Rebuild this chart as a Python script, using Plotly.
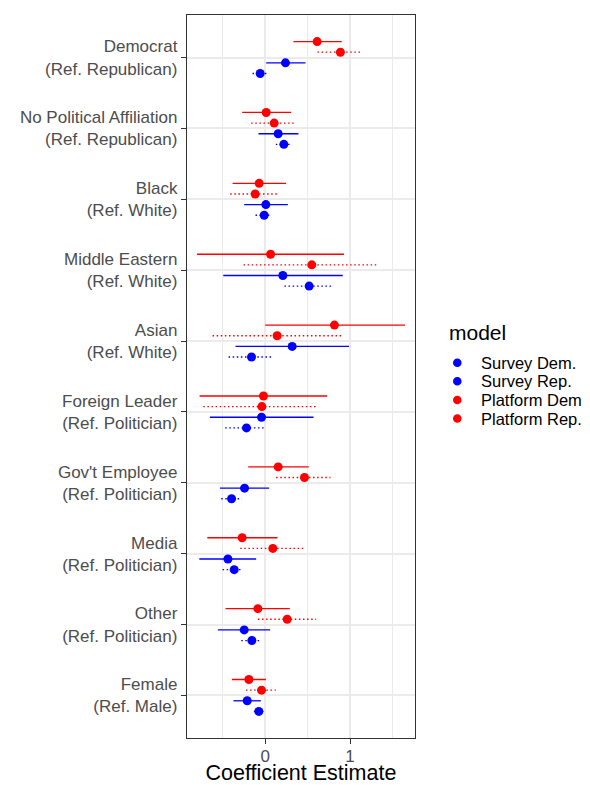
import plotly.graph_objects as go

# ---------------- data ----------------
categories = [
    "Democrat<br>(Ref. Republican)",
    "No Political Affiliation<br>(Ref. Republican)",
    "Black<br>(Ref. White)",
    "Middle Eastern<br>(Ref. White)",
    "Asian<br>(Ref. White)",
    "Foreign Leader<br>(Ref. Politician)",
    "Gov't Employee<br>(Ref. Politician)",
    "Media<br>(Ref. Politician)",
    "Other<br>(Ref. Politician)",
    "Female<br>(Ref. Male)",
]

models = ["Survey Dem.", "Survey Rep.", "Platform Dem.", "Platform Rep."]

survey_dem_est = [0.239, 0.153, 0.008, 0.208, 0.318, -0.043, -0.243, -0.439, -0.247, -0.212]
survey_dem_lo = [0.012, -0.078, -0.247, -0.494, -0.349, -0.651, -0.533, -0.776, -0.557, -0.373]
survey_dem_hi = [0.475, 0.392, 0.267, 0.914, 0.988, 0.569, 0.047, -0.106, 0.059, -0.051]

survey_rep_est = [-0.059, 0.220, -0.012, 0.518, -0.161, -0.220, -0.396, -0.365, -0.157, -0.075]
survey_rep_lo = [-0.149, 0.125, -0.114, 0.227, -0.431, -0.471, -0.518, -0.502, -0.282, -0.133]
survey_rep_hi = [0.027, 0.302, 0.067, 0.804, 0.086, -0.012, -0.275, -0.263, -0.043, -0.020]

platform_dem_est = [0.612, 0.012, -0.071, 0.063, 0.816, -0.020, 0.153, -0.271, -0.086, -0.192]
platform_dem_lo = [0.333, -0.271, -0.384, -0.804, 0.000, -0.773, -0.200, -0.682, -0.467, -0.392]
platform_dem_hi = [0.902, 0.306, 0.247, 0.929, 1.647, 0.729, 0.514, 0.145, 0.290, 0.008]

platform_rep_est = [0.886, 0.106, -0.118, 0.549, 0.141, -0.039, 0.463, 0.090, 0.259, -0.043]
platform_rep_lo = [0.616, -0.165, -0.412, -0.255, -0.620, -0.729, 0.129, -0.294, -0.086, -0.227]
platform_rep_hi = [1.137, 0.353, 0.165, 1.322, 0.910, 0.624, 0.769, 0.451, 0.600, 0.125]

x_ticks = [0, 1]

# ---------------- styling ----------------
series = {
    "Survey Dem.": dict(est=survey_dem_est, lo=survey_dem_lo, hi=survey_dem_hi,
                        color="#0000FF", dash="solid", dodge=-0.075),
    "Survey Rep.": dict(est=survey_rep_est, lo=survey_rep_lo, hi=survey_rep_hi,
                        color="#0000FF", dash="1.5px,2.6px", dodge=-0.225),
    "Platform Dem.": dict(est=platform_dem_est, lo=platform_dem_lo, hi=platform_dem_hi,
                          color="#FF0000", dash="solid", dodge=0.225),
    "Platform Rep.": dict(est=platform_rep_est, lo=platform_rep_lo, hi=platform_rep_hi,
                          color="#FF0000", dash="1.5px,2.6px", dodge=0.075),
}

n = len(categories)
base_y = [n - i for i in range(n)]  # top category highest

FONT = "Liberation Sans, Arial, Helvetica, sans-serif"
fig = go.Figure()

for name in models:
    s = series[name]
    ys = [b + s["dodge"] for b in base_y]
    lx, ly = [], []
    for lo, hi, y in zip(s["lo"], s["hi"], ys):
        lx += [lo, hi, None]
        ly += [y, y, None]
    fig.add_trace(go.Scatter(
        x=lx, y=ly, mode="lines",
        line=dict(color=s["color"], width=1.3, dash=s["dash"]),
        showlegend=False, hoverinfo="skip"))
    fig.add_trace(go.Scatter(
        x=s["est"], y=ys, mode="markers", name=name,
        marker=dict(color=s["color"], size=9, line=dict(width=0)),
        showlegend=False))

# zero reference line
fig.add_shape(type="line", xref="x", yref="paper", x0=0, x1=0, y0=0, y1=1,
              line=dict(color="#A6A6A6", width=1.4, dash="4px,3px"), layer="between")

# page body has an 8px margin; figure is drawn from (8, 8)
OFF = 8
ML, MT = 179, 7
PW, PH = 228, 723
W, H = 582, 777

def px_x(v):
    return (v - OFF - ML) / PW
def px_y(v):
    return (OFF + MT + PH - v) / PH

# manual legend (ggplot style)
fig.add_annotation(text="model", xref="paper", yref="paper",
                   x=px_x(447), y=px_y(332), xanchor="left", yanchor="middle",
                   showarrow=False, font=dict(family=FONT, size=21, color="#000000"))
legend_rows = [362.7, 381.3, 400.0, 418.5]
for name, ry in zip(models, legend_rows):
    s = series[name]
    fig.add_shape(type="circle", xref="paper", yref="paper",
                  xsizemode="pixel", ysizemode="pixel",
                  xanchor=px_x(457.3), yanchor=px_y(ry),
                  x0=-4.3, x1=4.3, y0=-4.3, y1=4.3,
                  fillcolor=s["color"], line=dict(width=0))
    fig.add_annotation(text=name, xref="paper", yref="paper",
                       x=px_x(478.5), y=px_y(ry), xanchor="left", yanchor="middle",
                       showarrow=False, font=dict(family=FONT, size=16.5, color="#000000"))

fig.update_layout(
    width=W, height=H,
    margin=dict(l=ML, r=W - ML - PW, t=MT, b=H - MT - PH, autoexpand=False),
    paper_bgcolor="white", plot_bgcolor="white",
    font=dict(family=FONT, color="#4D4D4D"),
    showlegend=False,
    xaxis=dict(
        range=[-0.921, 1.765], tickvals=x_ticks, ticktext=[str(t) for t in x_ticks],
        showgrid=True, gridcolor="#EBEBEB", gridwidth=1.7,
        minor=dict(tickvals=[-0.5, 0.5, 1.5], showgrid=True, gridcolor="#EBEBEB",
                   gridwidth=0.9, ticks=""),
        zeroline=False, showline=True, mirror=True, linecolor="#333333", linewidth=1.4,
        ticks="outside", ticklen=5, tickwidth=1.3, tickcolor="#333333",
        ticklabelstandoff=-3,
        tickfont=dict(family=FONT, size=17, color="#4D4D4D"),
        title=dict(text="Coefficient Estimate", standoff=4,
                   font=dict(family=FONT, size=21.5, color="#000000")),
        automargin=False, fixedrange=True,
    ),
    yaxis=dict(
        range=[0.4, 10.6], tickvals=base_y, ticktext=categories,
        showgrid=True, gridcolor="#EBEBEB", gridwidth=1.7,
        zeroline=False, showline=True, mirror=True, linecolor="#333333", linewidth=1.4,
        ticks="outside", ticklen=5, tickwidth=1.3, tickcolor="#333333",
        tickfont=dict(family=FONT, size=17, color="#4D4D4D"),
        automargin=False, fixedrange=True,
    ),
)

fig.write_html("out.html")
